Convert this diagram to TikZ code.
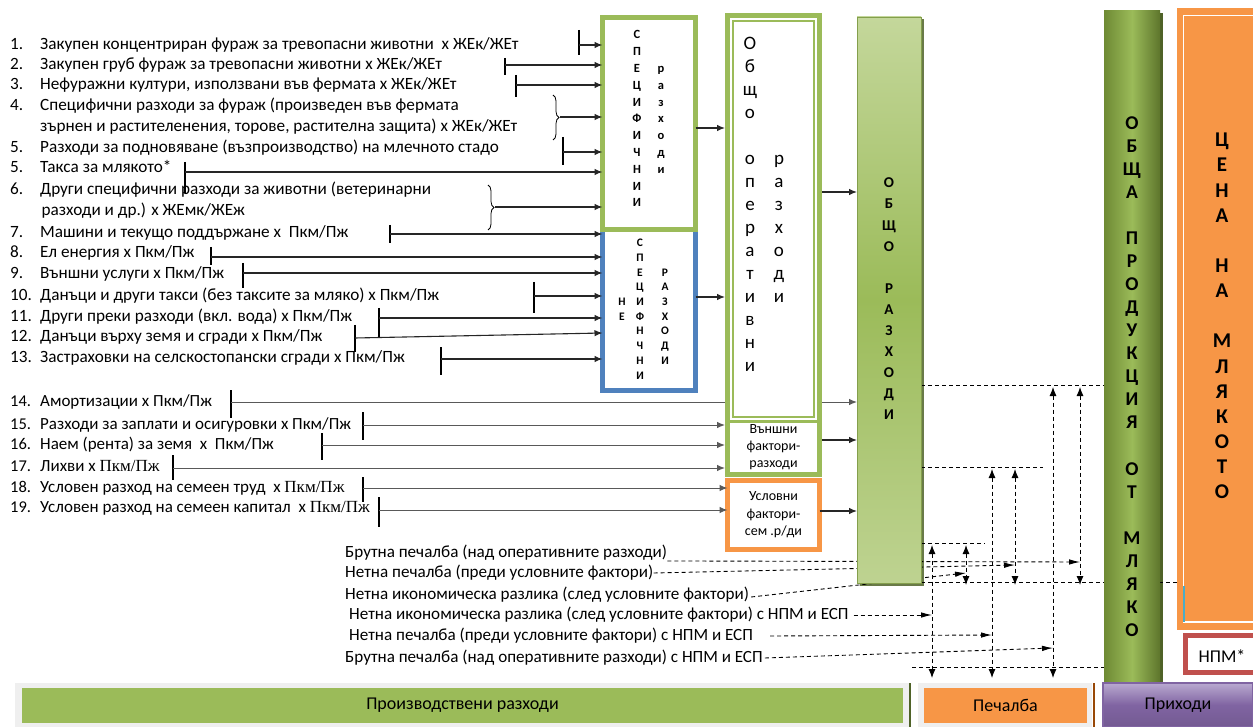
\documentclass[tikz,border=0pt]{standalone}
\usepackage{fontspec}
\setmainfont{Carlito}
\newfontfamily\timesfnt{Liberation Serif}
\usetikzlibrary{arrows.meta,decorations.pathreplacing,calc}
\pgfdeclarelayer{bg}
\pgfsetlayers{bg,main}
\newcommand\fsz[2]{\fontsize{#1}{#2}\selectfont}
\definecolor{gr}{HTML}{9BBB59}
\definecolor{grlt}{HTML}{C4D79B}
\definecolor{grdk}{HTML}{6E8A34}
\definecolor{grdd}{HTML}{4F6228}
\definecolor{bl}{HTML}{4F81BD}
\definecolor{org}{HTML}{F79646}
\definecolor{orgdk}{HTML}{984807}
\definecolor{redb}{HTML}{C0504D}
\definecolor{pur}{HTML}{8064A2}
\definecolor{purlt}{HTML}{B9A9D0}
\definecolor{frm}{HTML}{EFEFEF}
\definecolor{tealx}{HTML}{4BACC6}
\tikzset{
  num/.style={anchor=west, inner sep=0pt, font=\fsz{17.2}{20}, text height=12pt, text depth=3.5pt},
  itm/.style={num},
  itms/.style={num, font=\fsz{17}{20}},
  tick/.style={line width=1.2pt, black},
  arr/.style={line width=1.1pt, black!85, -{Latex[length=8pt,width=6.5pt]}},
  arrg/.style={line width=1pt, black!65, -{Latex[length=8pt,width=6.5pt]}},
  dsh/.style={line width=0.9pt, dash pattern=on 4pt off 3pt},
  darr/.style={dsh, -{Latex[length=11pt,width=5.5pt]}},
  dbl/.style={dsh, {Latex[length=9pt,width=7pt]}-{Latex[length=9pt,width=7pt]}},
  brc/.style={decorate, decoration={brace, amplitude=6pt}, line width=0.8pt},
  ltA/.style={inner sep=0pt, font=\bfseries\fsz{12.5}{12.5}, text height=8pt, text depth=0pt},
  ltB/.style={inner sep=0pt, font=\bfseries\fsz{11.5}{11.5}, text height=7.4pt, text depth=0pt},
  ltC/.style={inner sep=0pt, font=\fsz{19}{19}, text height=12.2pt, text depth=0pt},
  ltD/.style={inner sep=0pt, font=\bfseries\fsz{15}{15}, text height=9.7pt, text depth=0pt},
  ltE/.style={inner sep=0pt, font=\bfseries\fsz{19.5}{19.5}, text height=12.5pt, text depth=0pt},
  ltF/.style={inner sep=0pt, font=\bfseries\fsz{21}{21}, text height=13.5pt, text depth=0pt},
  box/.style={inner sep=0pt, outer sep=0pt},
  btxt/.style={num, font=\fsz{17.1}{20}},
}
\begin{document}
\begin{tikzpicture}[x=1pt,y=-1pt]
\useasboundingbox (0,0) rectangle (1253,727);
\clip (0,0) rectangle (1253,727);
\begin{pgfonlayer}{bg}
  \fill[white] (0,0) rectangle (1253,727);
\end{pgfonlayer}

% ---------- cost items ----------
\node[num] (n1) at (10,45) {1.};
\node[itm] (i1) at (40,45) {Закупен концентриран фураж за тревопасни животни\ \ х ЖЕк/ЖЕт};
\node[num] (n2) at (10,65) {2.};
\node[itm] (i2) at (40,65) {Закупен груб фураж за тревопасни животни х ЖЕк/ЖЕт};
\node[num] (n3) at (10,85) {3.};
\node[itm] (i3) at (40,85) {Нефуражни култури, използвани във фермата х ЖЕк/ЖЕт};
\node[num] (n4) at (10,106) {4.};
\node[itm] (i4a) at (40,106) {Специфични разходи за фураж (произведен във фермата};
\node[itm] (i4b) at (40,127) {зърнен и растителенения, торове, растителна защита) х ЖЕк/ЖЕт};
\node[num] (n5) at (10,148) {5.};
\node[itm] (i5) at (40,148) {Разходи за подновяване (възпроизводство) на млечното стадо};
\node[num] (n5b) at (10,168) {5.};
\node[itm] (i5b) at (40,168) {Такса за млякото*};
\node[num] (n6) at (10,190) {6.};
\node[itm] (i6a) at (40,190) {Други специфични разходи за животни (ветеринарни};
\node[itm] (i6b) at (41.5,211) {разходи и др.) х ЖЕмк/ЖЕж};
\node[num] (n7) at (10,233) {7.};
\node[itm] (i7) at (40,233) {Машини и текущо поддържане х\ \ Пкм/Пж};
\node[num] (n8) at (10,253) {8.};
\node[itm] (i8) at (40,253) {Ел енергия х Пкм/Пж};
\node[num] (n9) at (10,274) {9.};
\node[itm] (i9) at (40,274) {Външни услуги х Пкм/Пж};
\node[num] (n10) at (10,296) {10.};
\node[itm] (i10) at (40,296) {Данъци и други такси (без таксите за мляко) х Пкм/Пж};
\node[num] (n11) at (10,317) {11.};
\node[itm] (i11) at (40,317) {Други преки разходи (вкл. вода) х Пкм/Пж};
\node[num] (n12) at (10,337) {12.};
\node[itm] (i12) at (40,337) {Данъци върху земя и сгради х Пкм/Пж};
\node[num] (n13) at (10,358) {13.};
\node[itm] (i13) at (40,358) {Застраховки на селскостопански сгради х Пкм/Пж};
\node[num,font=\fsz{16.5}{19}] (n14) at (10,402) {14.};
\node[itms] (i14) at (40,402) {Амортизации х Пкм/Пж};
\node[num,font=\fsz{16.5}{19}] (n15) at (10,425) {15.};
\node[itms] (i15) at (40,425) {Разходи за заплати и осигуровки х Пкм/Пж};
\node[num,font=\fsz{16.5}{19}] (n16) at (10,445) {16.};
\node[itms] (i16) at (40,445) {Наем (рента) за земя\ \ х\ \ Пкм/Пж};
\node[num,font=\fsz{16.5}{19}] (n17) at (10,467) {17.};
\node[itms] (i17) at (40,467) {Лихви х {\timesfnt Пкм/Пж}};
\node[num,font=\fsz{16.5}{19}] (n18) at (10,488) {18.};
\node[itms] (i18) at (40,488) {Условен разход на семеен труд\ \ х {\timesfnt Пкм/Пж}};
\node[num,font=\fsz{16.5}{19}] (n19) at (10,508) {19.};
\node[itms] (i19) at (40,508) {Условен разход на семеен капитал\ \ х {\timesfnt Пкм/Пж}};

% ---------- result lines ----------
\node[btxt] (b1) at (345,553) {Брутна печалба (над оперативните разходи)};
\node[btxt] (b2) at (345,573) {Нетна печалба (преди условните фактори)};
\node[btxt] (b3) at (345,595) {Нетна икономическа разлика (след условните фактори)};
\node[btxt] (b4) at (349,615) {Нетна икономическа разлика (след условните фактори) с НПМ и ЕСП};
\node[btxt] (b5) at (349,636) {Нетна печалба (преди условните фактори) с НПМ и ЕСП};
\node[btxt] (b6) at (345,658) {Брутна печалба (над оперативните разходи) с НПМ и ЕСП};

% ---------- specific / non-specific cost boxes ----------
\node[box, draw=bl, line width=5pt, fill=white, minimum width=93pt, minimum height=163.5pt] (nspec) at (649,308.75) {};
\node[box, draw=gr, line width=5pt, fill=white, minimum width=93pt, minimum height=212pt] (spec) at (649,123.5) {};
\foreach \c/\k in {С/0,П/1,Е/2,Ц/3,И/4,Ф/5,И/6,Ч/7,Н/8,И/9,И/10}
  \node[ltA] (sa\k) at (637,35+16.8*\k) {\c};
\foreach \c/\k in {р/2,а/3,з/4,х/5,о/6,д/7,и/8}
  \node[ltA] (sb\k) at (661,35+16.8*\k) {\c};
\foreach \c/\k in {Н/4,Е/5}
  \node[ltB] (na\k) at (622,243+14.7*\k) {\c};
\foreach \c/\k in {С/0,П/1,Е/2,Ц/3,И/4,Ф/5,Н/6,Ч/7,Н/8,И/9}
  \node[ltB] (nb\k) at (640,243+14.7*\k) {\c};
\foreach \c/\k in {Р/2,А/3,З/4,Х/5,О/6,Д/7,И/8}
  \node[ltB] (nc\k) at (665,243+14.7*\k) {\c};

% ---------- operating costs column ----------
\node[box, fill=gr, minimum width=97pt, minimum height=464pt] (opbox) at (773.5,245) {};
\node[box, fill=white, minimum width=87pt, minimum height=402pt] (opin) at (773.5,219) {};
\draw[gr, line width=1.2pt] (733,21) rectangle (814,417);
\foreach \c/\k in {О/0,б/1,щ/2,о/3,о/5,п/6,е/7,р/8,а/9,т/10,и/11,в/12,н/13,и/14}
  \node[ltC] (oa\k) at (750,43+23*\k) {\c};
\foreach \c/\k in {р/5,а/6,з/7,х/8,о/9,д/10,и/11}
  \node[ltC] (ob\k) at (779,43+23*\k) {\c};
\node[box, fill=white, minimum width=87pt, minimum height=49pt, align=center, font=\fsz{14}{17}] (vf) at (773.5,447.5) {Външни\\фактори-\\разходи};
\node[box, draw=org, line width=5pt, fill=white, minimum width=92pt, minimum height=69pt, align=center, font=\fsz{14}{17.5}] (usl) at (773.5,515) {Условни\\фактори-\\сем .р/ди};

% ---------- total costs ----------
\node[box, draw=gr!85!black, line width=0.8pt, top color=grlt, bottom color=grlt!85!gr, middle color=gr, minimum width=64pt, minimum height=566pt] (obr) at (889,300) {};
\foreach \c/\k in {О/0,Б/1,Щ/2,О/3,Р/5,А/6,З/7,Х/8,О/9,Д/10,И/11}
  \node[ltD] (ra\k) at (889,183+21.1*\k) {\c};

% ---------- revenue columns ----------
\node[box, left color=grdk, right color=grdk!85!black, middle color=gr, minimum width=56pt, minimum height=672pt] (oprod) at (1132,347) {};
\foreach \c/\k in {О/0,Б/1,Щ/2,А/3,П/5,Р/6,О/7,Д/8,У/9,К/10,Ц/11,И/12,Я/13,О/15,Т/16,М/18,Л/19,Я/20,К/21,О/22}
  \node[ltE] (pa\k) at (1132,123+23.05*\k) {\c};
\node[box, fill=org, minimum width=85pt, minimum height=622pt] (cena) at (1219.5,319) {};
\draw[white, line width=1.5pt] (1262,15.5) -- (1183.5,15.5) -- (1183.5,622) -- (1262,622);
\draw[tealx, line width=1.2pt] (1184,586) -- (1184,622);
\foreach \c/\k in {Ц/0,Е/1,Н/2,А/3,Н/5,А/6,М/8,Л/9,Я/10,К/11,О/12,Т/13,О/14}
  \node[ltF] (ca\k) at (1222,140+25.14*\k) {\c};
\node[box, draw=redb, line width=4.5pt, fill=white, minimum width=76.5pt, minimum height=37pt] (npm) at (1223.75,654) {};
\node[font=\fsz{18}{18}, inner sep=0pt] (npmt) at (1222,656) {НПМ*};

% ---------- bottom bands ----------
\fill[frm] (15,683) rectangle (909,727);
\node[box, fill=gr, minimum width=881pt, minimum height=35pt, font=\fsz{18}{18}] (prb) at (462.5,705.5) {Производствени разходи};
\draw[grdd, line width=1.5pt] (910,683) -- (910,727);
\fill[frm] (918,683) rectangle (1092,727);
\node[box, fill=org, minimum width=163pt, minimum height=35pt, font=\fsz{18}{18}] (peb) at (1005.5,705.5) {Печалба};
\draw[orgdk, line width=1.5pt] (1094,683) -- (1094,727);
\node[box, draw=pur, line width=1.2pt, top color=purlt, bottom color=pur!90!black, middle color=pur, minimum width=150pt, minimum height=44pt, font=\fsz{18}{18}] (pri) at (1178,705) {Приходи};

% ---------- connectors: items to boxes ----------
\coordinate (k1) at (579,45);  \draw[tick] (579,30) -- (579,55);  \draw[arr] (k1) -- (k1 -| spec.west);
\coordinate (k2) at (505,65);  \draw[tick] (505,58) -- (505,75);  \draw[arr] (k2) -- (k2 -| spec.west);
\coordinate (k3) at (516,85);  \draw[tick] (516,75) -- (516,97);  \draw[arr] (k3) -- (k3 -| spec.west);
\draw[brc] (553,95) -- (553,140);
\coordinate (k4) at (560,117); \draw[arr] (k4) -- (k4 -| spec.west);
\coordinate (k5) at (563,152); \draw[tick] (563,137) -- (563,165); \draw[arr] (k5) -- (k5 -| spec.west);
\coordinate (k5b) at (185,172); \draw[tick] (185,162) -- (185,193); \draw[arr] (k5b) -- (k5b -| spec.west);
\draw[brc] (488,185) -- (488,230);
\coordinate (k6) at (495,207); \draw[arr] (k6) -- (k6 -| spec.west);
\coordinate (k7) at (390,234); \draw[tick] (390,225) -- (390,243); \draw[arr] (k7) -- (k7 -| nspec.west);
\coordinate (k8) at (211,257); \draw[tick] (211,247) -- (211,265); \draw[arr] (k8) -- (k8 -| nspec.west);
\coordinate (k9) at (243,273); \draw[tick] (243,263) -- (243,288); \draw[arr] (k9) -- (k9 -| nspec.west);
\coordinate (k10) at (534,296); \draw[tick] (534,282) -- (534,313); \draw[arr] (k10) -- (k10 -| nspec.west);
\coordinate (k11) at (379,318); \draw[tick] (379,308) -- (379,337); \draw[arr] (k11) -- (k11 -| nspec.west);
\coordinate (k12) at (355,338); \draw[tick] (355,325) -- (355,352); \draw[arr] (k12) -- ($(k12 -| nspec.west)+(0,-5)$);
\coordinate (k13) at (441,359); \draw[tick] (441,347) -- (441,375); \draw[arr] (k13) -- (k13 -| nspec.west);

\begin{pgfonlayer}{bg}
  \coordinate (k14) at (231,402); \draw[tick] (231,390) -- (231,418); \draw[arrg] (k14) -- (k14 -| obr.west);
\end{pgfonlayer}
\coordinate (k15) at (363,425); \draw[tick] (363,412) -- (363,440); \draw[arrg] (k15) -- (k15 -| opbox.west);
\coordinate (k16) at (322,445); \draw[tick] (322,433) -- (322,460); \draw[arrg] (k16) -- (k16 -| opbox.west);
\coordinate (k17) at (173,468); \draw[tick] (173,455) -- (173,480); \draw[arrg] (k17) -- (k17 -| opbox.west);
\coordinate (k18) at (363,488); \draw[tick] (363,477) -- (363,502); \draw[arrg] (k18) -- (k18 -| usl.west);
\coordinate (k19) at (379,510); \draw[tick] (379,497) -- (379,527); \draw[arrg] (k19) -- (k19 -| usl.west);

% ---------- connectors between boxes ----------
\draw[arr] (spec.east |- 0,128) -- (opbox.west |- 0,128);
\draw[arr] (nspec.east |- 0,297) -- (opbox.west |- 0,297);
\draw[arr] (opbox.east |- 0,192) -- (obr.west |- 0,192);
\draw[arr] (opbox.east |- 0,440) -- (obr.west |- 0,440);
\draw[arr] (usl.east |- 0,511) -- (obr.west |- 0,511);

% ---------- margin levels and differences ----------
\begin{pgfonlayer}{bg}
  \fill[grdd!85] ([shift={(2.5pt,-2.5pt)}]obr.north west) rectangle ([shift={(2.5pt,-2.5pt)}]obr.south east);
  \fill[grdd] ([shift={(2.5pt,-2pt)}]oprod.north west) rectangle ([shift={(2.5pt,0pt)}]oprod.south east);
  \draw[dsh] (obr.east |- 0,385) -- (oprod.west |- 0,385);
  \draw[dsh] (obr.east |- 0,467) -- (1043,467);
  \draw[dsh] (obr.east |- 0,543) -- (985,543);
  \draw[dsh] (obr.east |- 0,582) -- (cena.west |- 0,582);
  \draw[dsh] (912,667) -- (oprod.west |- 0,667);
  \coordinate (e1) at (1080,562);
  \coordinate (e2) at (1015,565);
  \coordinate (e3) at (966,573);
  \coordinate (e4) at (932,615);
  \coordinate (e5) at (992,635);
  \coordinate (e6) at (1053,648);
  \draw[darr] (b1.south east) -- (e1);
  \draw[darr] (b2.east) -- (e2);
  \draw[darr] ([shift={(2pt,-2pt)}]b3.east) -- (e3);
  \draw[darr] ([xshift=5pt]b4.east) -- (e4);
  \draw[darr] ([xshift=17pt]b5.east) -- (e5);
  \draw[darr] ([xshift=2pt]b6.east) -- (e6);
\end{pgfonlayer}
\coordinate (v1t) at (932,545);  \coordinate (v1b) at (932,678);
\coordinate (v2t) at (966,545);  \coordinate (v2b) at (966,585);
\coordinate (v3t) at (992,469);  \coordinate (v3b) at (992,678);
\coordinate (v4t) at (1015,469); \coordinate (v4b) at (1015,585);
\coordinate (v5t) at (1053,387); \coordinate (v5b) at (1053,678);
\coordinate (v6t) at (1080,387); \coordinate (v6b) at (1080,585);
\draw[dbl] (v1t) -- (v1b);
\draw[dbl] (v2t) -- (v2b);
\draw[dbl] (v3t) -- (v3b);
\draw[dbl] (v4t) -- (v4b);
\draw[dbl] (v5t) -- (v5b);
\draw[dbl] (v6t) -- (v6b);
\end{tikzpicture}
\end{document}
